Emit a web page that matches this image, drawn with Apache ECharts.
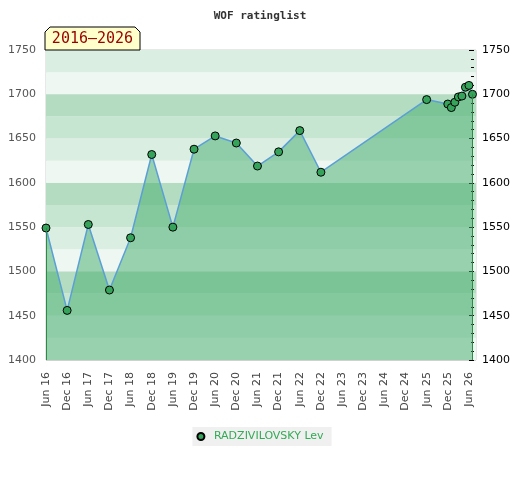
<!DOCTYPE html>
<html>
<head>
<meta charset="utf-8">
<script src="https://cdn.jsdelivr.net/npm/echarts@6/dist/echarts.min.js"></script>
<style>
  html, body { margin: 0; padding: 0; background: #fff; }
  #chart { width: 520px; height: 480px; }
</style>
</head>
<body>
<div id="chart"></div>
<script>
// rating periods (year-month) and ratings
var periods = ['2016-06', '2016-12', '2017-06', '2017-12', '2018-06', '2018-12', '2019-06', '2019-12',
    '2020-06', '2020-12', '2021-06', '2021-12', '2022-06', '2022-12', '2025-06', '2025-12',
    '2026-01', '2026-02', '2026-03', '2026-04', '2026-05', '2026-06', '2026-07'];
var ratings = [1549, 1456, 1553, 1479, 1538, 1632, 1550, 1638,
    1653, 1645, 1619, 1635, 1659, 1612, 1694, 1689,
    1685, 1691, 1697, 1698, 1708, 1710, 1700];
var playerName = 'RADZIVILOVSKY Lev';
var rangeLabel = '2016\u20132026';
var monthNames = ['Jan', 'Feb', 'Mar', 'Apr', 'May', 'Jun', 'Jul', 'Aug', 'Sep', 'Oct', 'Nov', 'Dec'];
var bandColors = ['#eef7f1', '#dbeee2', '#c7e6d1', '#b3dcc1'];

//年月 -> 小数年
function ym(s) {
    var p = s.split('-');
    return parseInt(p[0]) + (parseInt(p[1]) - 1) / 12;
}
function monthLabel(v) {
    var n = Math.round(v * 12);
    return monthNames[n % 12] + ' ' + String(Math.floor(n / 12) % 100);
}
function plain(v) {
    return String(v);
}

var points = periods.map(function (p, i) { return [ym(p), ratings[i]]; });
var first = points[0], last = points[points.length - 1];

var chart = echarts.init(document.getElementById('chart'));
chart.setOption({
    animation: false,
    title: {
        text: 'WOF ratinglist',
        left: 'center',
        top: 6,
        textStyle: { fontFamily: 'DejaVu Sans Mono', fontSize: 11, fontWeight: 'bold', color: '#333' }
    },
    grid: { left: 46, right: 44, top: 50, bottom: 120, show: true, borderColor: '#d0d0d0', borderWidth: 1 },
    legend: {
        data: [playerName],
        left: 'center',
        top: 427,
        icon: 'circle',
        itemWidth: 16,
        itemHeight: 7,
        padding: [4, 8, 4, 4],
        backgroundColor: '#f0f0f0',
        textStyle: { fontFamily: 'DejaVu Sans', fontSize: 11, color: '#33aa55' }
    },
    xAxis: {
        type: 'value',
        min: 2016 + 5 / 12,
        max: 2026 + 7 / 12,
        interval: 0.5,
        axisLine: { show: false },
        axisTick: { show: false },
        splitLine: { show: false },
        axisLabel: {
            rotate: 90,
            margin: 12,
            showMaxLabel: false,
            fontFamily: 'DejaVu Sans',
            fontSize: 11,
            color: '#444',
            formatter: monthLabel
        }
    },
    yAxis: [{
        type: 'value',
        min: 1400, max: 1750, interval: 50,
        position: 'left',
        axisLine: { show: false },
        axisTick: { show: false },
        axisLabel: { fontFamily: 'DejaVu Sans', fontSize: 11, color: '#555', margin: 10, formatter: plain },
        splitLine: { show: true, lineStyle: { color: ['#d0d0d0', 'transparent'], width: 1 } }
    }, {
        type: 'value',
        min: 1400, max: 1750, interval: 50,
        position: 'right',
        offset: -2,
        axisLine: { show: false },
        axisTick: { show: true, inside: true, length: 5, lineStyle: { color: '#000' } },
        minorTick: { show: true, splitNumber: 5, length: 3, lineStyle: { color: '#000' } },
        axisLabel: { fontFamily: 'DejaVu Sans', fontSize: 11, color: '#000', margin: 8, formatter: plain },
        splitLine: { show: false }
    }, {
        //背景色带
        type: 'value',
        min: 1400, max: 1750, interval: 25,
        position: 'left',
        axisLine: { show: false },
        axisTick: { show: false },
        axisLabel: { show: false },
        splitLine: { show: false },
        splitArea: { show: true, areaStyle: { color: bandColors } }
    }],
    graphic: [{
        type: 'polygon',
        shape: { points: [[45, 50], [45, 32], [50, 27], [135, 27], [140, 32], [140, 50]] },
        style: { fill: '#ffffcc', stroke: '#000', lineWidth: 1 },
        z: 10
    }, {
        type: 'text',
        x: 92.5, y: 39.5,
        style: {
            text: rangeLabel,
            fill: '#990000',
            font: '15px "DejaVu Sans Mono"',
            align: 'center',
            verticalAlign: 'middle'
        },
        z: 11
    }],
    series: [{
        name: playerName,
        type: 'line',
        data: points,
        symbol: 'circle',
        symbolSize: 8,
        showAllSymbol: true,
        itemStyle: { color: '#35a35a', borderColor: '#000', borderWidth: 1 },
        lineStyle: { color: '#5b9fd6', width: 1.5 },
        areaStyle: { color: 'rgb(66,171,107)', opacity: 0.5, origin: 'start' },
        markLine: {
            silent: true,
            symbol: 'none',
            label: { show: false },
            lineStyle: { color: '#2e8b45', width: 1, type: 'solid' },
            data: [
                [{ coord: [first[0], first[1]] }, { coord: [first[0], 1400] }],
                [{ coord: [last[0], last[1]] }, { coord: [last[0], 1400] }]
            ]
        },
        z: 3
    }]
});
</script>
</body>
</html>
